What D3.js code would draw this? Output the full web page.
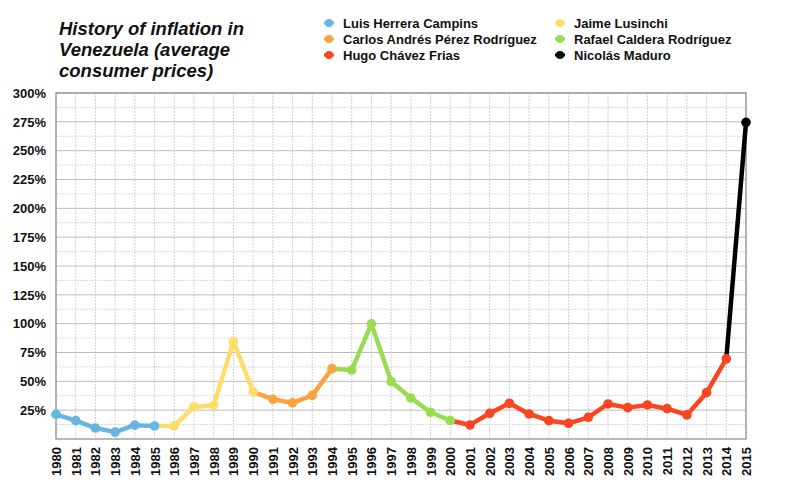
<!DOCTYPE html>
<html>
<head>
<meta charset="utf-8">
<script src="https://cdn.jsdelivr.net/npm/d3@7"></script>
<style>
body{margin:0;background:#fff;}
text{font-family:"Liberation Sans",Arial,Helvetica,sans-serif;}
</style>
</head>
<body>
<div id="chart"></div>
<script>
// Data

var years = d3.range(1980, 2016);
var inflation = [21.4, 15.9, 9.5, 6.0, 12.0, 11.3, 11.4, 28.0, 29.3, 84.4,
	41.0, 34.4, 31.3, 37.9, 61.0, 59.8, 99.8, 49.8, 35.6, 23.2,
	16.0, 12.2, 22.3, 31.0, 21.7, 15.9, 13.6, 18.8, 30.4, 27.2,
	29.5, 26.3, 20.9, 40.2, 69.5, 274.6];

var presidents = ["Luis Herrera Campins", "Jaime Lusinchi", "Carlos Andrés Pérez Rodríguez",
	"Rafael Caldera Rodríguez", "Hugo Chávez Frias", "Nicolás Maduro"];
var termStart = [1980, 1985, 1990, 1994, 2000, 2014];
var termEnd   = [1985, 1990, 1994, 2000, 2014, 2015];
var colors = ["#66b5e2", "#fedc6a", "#fda242", "#98dc52", "#fb4421", "#000000"];

var yTicks = [25, 50, 75, 100, 125, 150, 175, 200, 225, 250, 275, 300];

// Layout

var W = 800, H = 480;
var ml = 56, mr = 746, mt = 93, mb = 439;

var svg = d3.select("#chart").append("svg").attr("width", W).attr("height", H);

var x = d3.scaleLinear().domain([1980, 2015]).range([ml, mr]);
var y = d3.scaleLinear().domain([0, 300]).range([mb, mt]);

// grid

var grid = svg.append("g");
grid.selectAll(".vg").data(years).enter().append("line")
	.attr("x1", d => x(d)).attr("x2", d => x(d))
	.attr("y1", mt).attr("y2", mb)
	.style("stroke", "#d2d2d2").style("stroke-width", 1).style("stroke-dasharray", "2,1");

grid.selectAll(".hm").data(d3.range(12.5, 300, 25)).enter().append("line")
	.attr("x1", ml).attr("x2", mr)
	.attr("y1", d => y(d)).attr("y2", d => y(d))
	.style("stroke", "#d8d8d8").style("stroke-width", 1).style("stroke-dasharray", "2,1");

grid.selectAll(".hM").data(yTicks).enter().append("line")
	.attr("x1", ml).attr("x2", mr)
	.attr("y1", d => y(d)).attr("y2", d => y(d))
	.style("stroke", "#bdbdbd").style("stroke-width", 1);

svg.append("rect").attr("x", ml).attr("y", mt).attr("width", mr - ml).attr("height", mb - mt)
	.style("fill", "none").style("stroke", "#8a8a8a").style("stroke-width", 1.2);

// axes

var yAxis = svg.append("g").attr("transform", "translate(" + ml + ",0)")
	.call(d3.axisLeft(y).tickValues(yTicks).tickSize(0).tickPadding(10).tickFormat(d => d + "%"));
yAxis.select(".domain").remove();
yAxis.selectAll("text").style("font-size", "13px").style("font-weight", "bold").style("fill", "#111");

var xAxis = svg.append("g").attr("transform", "translate(0," + mb + ")")
	.call(d3.axisBottom(x).tickValues(years).tickSize(0).tickFormat(d3.format("d")));
xAxis.select(".domain").remove();
xAxis.selectAll("text")
	.attr("transform", "rotate(-90)")
	.attr("x", -8).attr("y", 0).attr("dy", "0.35em")
	.style("text-anchor", "end")
	.style("font-size", "13px").style("font-weight", "bold").style("fill", "#111");

// series

var line = d3.line().x(d => x(d.year)).y(d => y(d.v));

var series = presidents.map(function(p, i) {
	var pts = years.map((yr, j) => ({year: yr, v: inflation[j]}))
		.filter(d => d.year >= termStart[i] && d.year <= termEnd[i]);
	return {name: p, color: colors[i], pts: pts, first: i == 0};
});

series.forEach(function(s) {
	svg.append("path").datum(s.pts).attr("d", line)
		.style("fill", "none").style("stroke", s.color).style("stroke-width", 4.5)
		.style("stroke-linejoin", "round");
});

series.forEach(function(s) {
	var dots = s.first ? s.pts : s.pts.slice(1);
	svg.selectAll(null).data(dots).enter().append("circle")
		.attr("cx", d => x(d.year)).attr("cy", d => y(d.v)).attr("r", 4.8)
		.style("fill", s.color);
});

// title

var title = svg.append("text").attr("x", 59).attr("y", 35)
	.style("font-size", "18.5px").style("font-weight", "bold").style("font-style", "italic").style("fill", "#111");
["History of inflation in", "Venezuela (average", "consumer prices)"].forEach(function(t, i) {
	title.append("tspan").attr("x", 59).attr("dy", i == 0 ? 0 : 21).text(t);
});

// legend

var leg = svg.selectAll(".leg").data(series).enter().append("g")
	.attr("transform", (d, i) => "translate(" + (i % 2 == 0 ? 329 : 560) + "," + (23 + Math.floor(i / 2) * 16) + ")");
leg.append("line").attr("x1", -5).attr("x2", 5).attr("y1", 0).attr("y2", 0)
	.style("stroke", d => d.color).style("stroke-width", 3);
leg.append("circle").attr("r", 4).style("fill", d => d.color);
leg.append("text").attr("x", 14).attr("dy", "0.35em").text(d => d.name)
	.style("font-size", "13px").style("font-weight", "bold").style("fill", "#111");
</script>
</body>
</html>
